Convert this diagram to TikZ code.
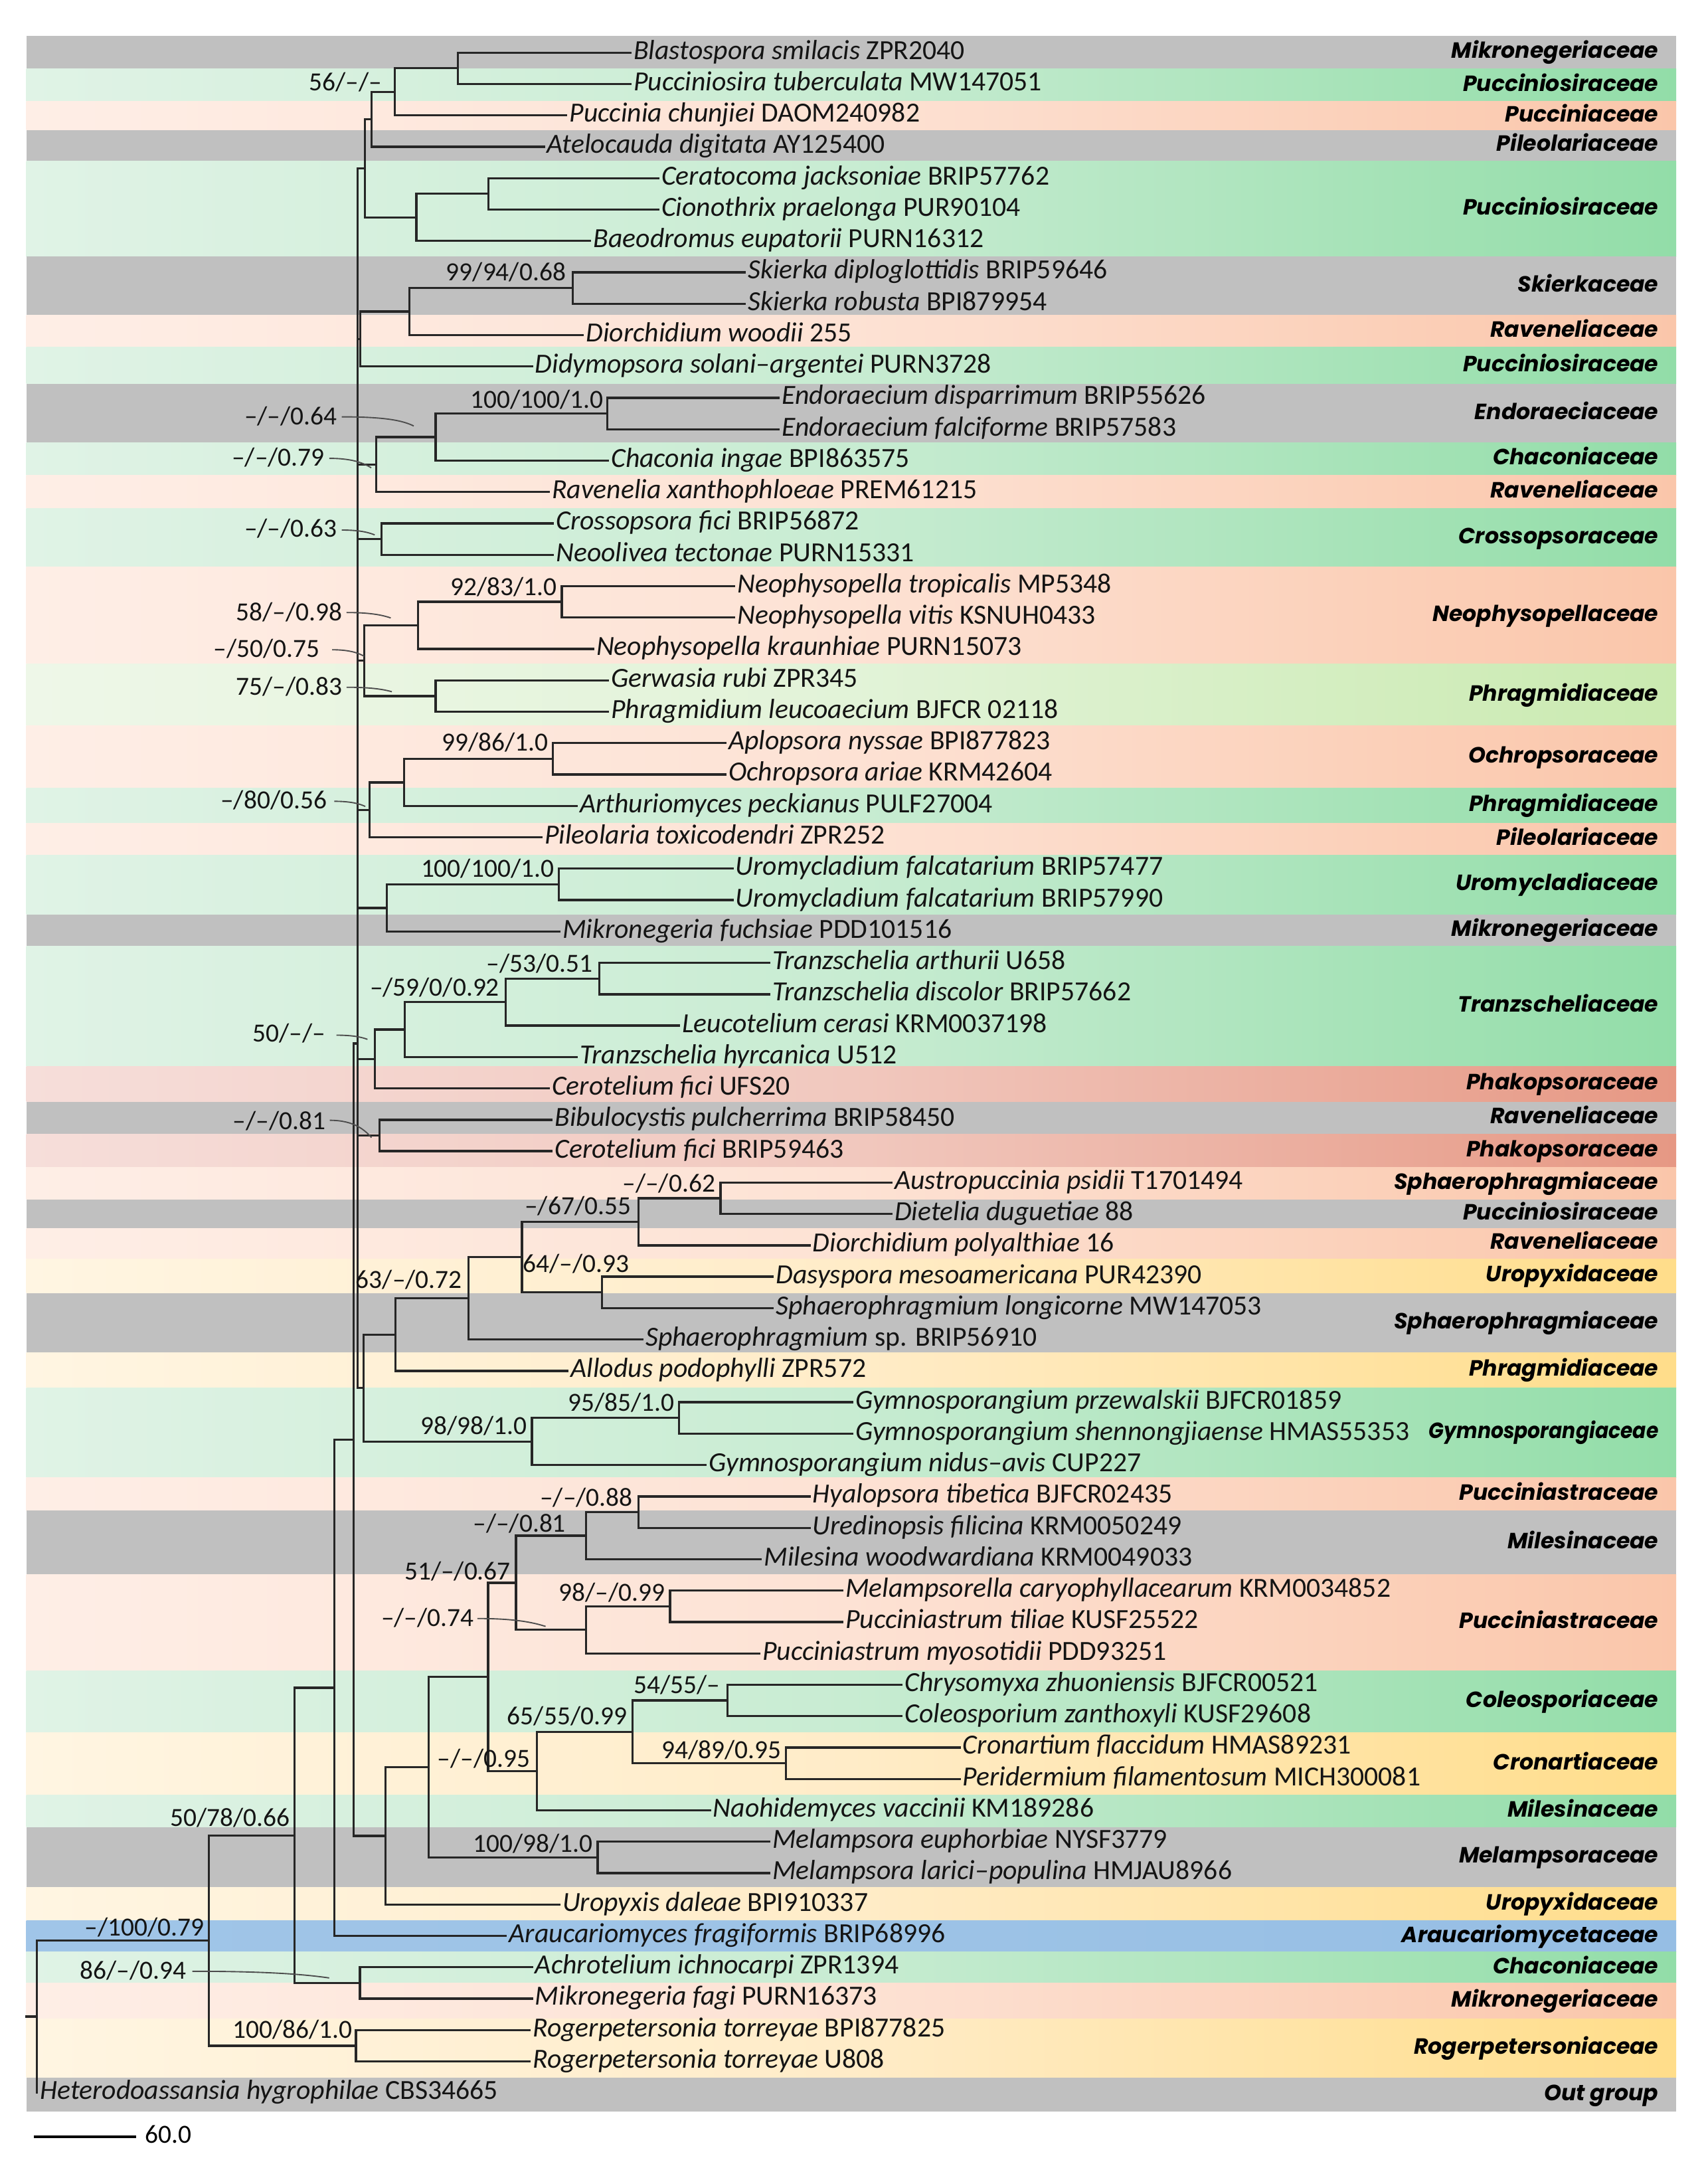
\documentclass[tikz,border=0pt]{standalone}
\usepackage{fontspec}
\setmainfont{Carlito}
\newfontfamily\famfont{Poppins}
\usetikzlibrary{calc}
\definecolor{bandgray}{RGB}{192,192,192}
\definecolor{gL}{RGB}{224,243,230}\definecolor{gM}{RGB}{200,236,210}\definecolor{gR}{RGB}{146,221,168}
\definecolor{pL}{RGB}{254,238,230}\definecolor{pM}{RGB}{253,226,212}\definecolor{pR}{RGB}{250,198,170}
\definecolor{rL}{RGB}{246,222,218}\definecolor{rM}{RGB}{241,200,190}\definecolor{rR}{RGB}{230,152,132}
\definecolor{yL}{RGB}{255,245,226}\definecolor{yM}{RGB}{255,236,200}\definecolor{yR}{RGB}{255,221,138}
\definecolor{lL}{RGB}{238,247,232}\definecolor{lM}{RGB}{226,243,216}\definecolor{lR}{RGB}{202,234,176}
\definecolor{bL}{RGB}{160,197,232}\definecolor{bM}{RGB}{157,195,230}\definecolor{bR}{RGB}{150,190,228}
\tikzset{
  branch/.style={line width=0.8pt, line cap=rect, line join=miter, draw=black!85},
  leader/.style={line width=0.45pt, draw=black!70},
  taxon/.style={anchor=mid west, inner xsep=1pt, inner ysep=0pt, font=\fontsize{10}{12}\selectfont, text=black!92},
  sup/.style={anchor=base east, inner sep=0pt, font=\fontsize{9.45}{11}\selectfont, text=black!92},
  fam/.style={anchor=mid east, inner sep=0pt, font=\famfont\bfseries\itshape\fontsize{7.95}{10}\selectfont},
  bgray/.style={fill=bandgray},
  bgreen/.style={left color=gL, right color=gR, middle color=gM},
  bpeach/.style={left color=pL, right color=pR, middle color=pM},
  bred/.style={left color=rL, right color=rR, middle color=rM},
  byellow/.style={left color=yL, right color=yR, middle color=yM},
  blgreen/.style={left color=lL, right color=lR, middle color=lM},
  bblue/.style={left color=bL, right color=bR, middle color=bM}
}
\newcommand\band[5]{\path[#3] (19,#1) rectangle (1211.4,#2);
  \node[fam] (#5) at (1199,{(#1+#2)/2-0.5}) {#4};}
\newcommand\tip[5]{\node[taxon] (#1) at (#2,#3) {\textit{#4} #5};}
\newcommand\br[2]{\draw[branch] (#1) |- (#2);}
\begin{document}
\begin{tikzpicture}[x=0.5pt,y=-0.5pt]
\useasboundingbox (0,0) rectangle (1234,1568);
% ---------- bands ----------
\band{25.7}{49.7}{bgray}{Mikronegeriaceae}{F1}
\band{49.7}{73.4}{bgreen}{Pucciniosiraceae}{F2}
\band{73.4}{94}{bpeach}{Pucciniaceae}{F3}
\band{94}{116.2}{bgray}{Pileolariaceae}{F4}
\band{116.2}{185.4}{bgreen}{Pucciniosiraceae}{F5}
\band{185.4}{227.5}{bgray}{Skierkaceae}{F6}
\band{227.5}{251}{bpeach}{Raveneliaceae}{F7}
\band{251}{277.2}{bgreen}{Pucciniosiraceae}{F8}
\band{277.2}{320}{bgray}{Endoraeciaceae}{F9}
\band{320}{343.2}{bgreen}{Chaconiaceae}{F10}
\band{343.2}{367.5}{bpeach}{Raveneliaceae}{F11}
\band{367.5}{409.7}{bgreen}{Crossopsoraceae}{F12}
\band{409.7}{479.8}{bpeach}{Neophysopellaceae}{F13}
\band{479.8}{524.4}{blgreen}{Phragmidiaceae}{F14}
\band{524.4}{569.3}{bpeach}{Ochropsoraceae}{F15}
\band{569.3}{594.7}{bgreen}{Phragmidiaceae}{F16}
\band{594.7}{617.8}{bpeach}{Pileolariaceae}{F17}
\band{617.8}{660.7}{bgreen}{Uromycladiaceae}{F18}
\band{660.7}{683.8}{bgray}{Mikronegeriaceae}{F19}
\band{683.8}{770.4}{bgreen}{Tranzscheliaceae}{F20}
\band{770.4}{796}{bred}{Phakopsoraceae}{F21}
\band{796}{819.5}{bgray}{Raveneliaceae}{F22}
\band{819.5}{843.5}{bred}{Phakopsoraceae}{F23}
\band{843.5}{866.6}{bpeach}{Sphaerophragmiaceae}{F24}
\band{866.6}{887.5}{bgray}{Pucciniosiraceae}{F25}
\band{887.5}{909.5}{bpeach}{Raveneliaceae}{F26}
\band{909.5}{934.3}{byellow}{Uropyxidaceae}{F27}
\band{934.3}{977.2}{bgray}{Sphaerophragmiaceae}{F28}
\band{977.2}{1002.9}{byellow}{Phragmidiaceae}{F29}
\band{1002.9}{1067.6}{bgreen}{\scalebox{0.9}[1]{Gymnosporangiaceae}}{F30}
\band{1067.6}{1091.5}{bpeach}{Pucciniastraceae}{F31}
\band{1091.5}{1137.8}{bgray}{Milesinaceae}{F32}
\band{1137.8}{1207.2}{bpeach}{Pucciniastraceae}{F33}
\band{1207.2}{1251.8}{bgreen}{Coleosporiaceae}{F34}
\band{1251.8}{1297.2}{byellow}{Cronartiaceae}{F35}
\band{1297.2}{1320.2}{bgreen}{Milesinaceae}{F36}
\band{1320.2}{1363.6}{bgray}{Melampsoraceae}{F37}
\band{1363.6}{1387.9}{byellow}{Uropyxidaceae}{F38}
\band{1387.9}{1410.5}{bblue}{Araucariomycetaceae}{F39}
\band{1410.5}{1433}{bgreen}{Chaconiaceae}{F40}
\band{1433}{1458.6}{bpeach}{Mikronegeriaceae}{F41}
\band{1458.6}{1501.1}{byellow}{Rogerpetersoniaceae}{F42}
\band{1501.1}{1525.9}{bgray}{Out group}{F43}
% ---------- tips ----------
\tip{T0}{455.6}{38.00}{Blastospora smilacis}{ZPR2040}
\tip{T1}{455.6}{60.68}{Pucciniosira tuberculata}{MW147051}
\tip{T2}{409.3}{83.36}{Puccinia chunjiei}{DAOM240982}
\tip{T3}{393.0}{106.04}{Atelocauda digitata}{AY125400}
\tip{T4}{475.7}{128.72}{Ceratocoma jacksoniae}{BRIP57762}
\tip{T5}{475.7}{151.40}{Cionothrix praelonga}{PUR90104}
\tip{T6}{426.5}{174.08}{Baeodromus eupatorii}{PURN16312}
\tip{T7}{538.3}{196.76}{Skierka diploglottidis}{BRIP59646}
\tip{T8}{538.3}{219.44}{Skierka robusta}{BPI879954}
\tip{T9}{421.3}{242.12}{Diorchidium woodii}{255}
\tip{T10}{384.4}{264.80}{Didymopsora solani–argentei}{PURN3728}
\tip{T11}{562.7}{287.48}{Endoraecium disparrimum}{BRIP55626}
\tip{T12}{562.7}{310.16}{Endoraecium falciforme}{BRIP57583}
\tip{T13}{439.3}{332.84}{Chaconia ingae}{BPI863575}
\tip{T14}{396.5}{355.52}{Ravenelia xanthophloeae}{PREM61215}
\tip{T15}{399.5}{378.20}{Crossopsora fici}{BRIP56872}
\tip{T16}{399.5}{400.88}{Neoolivea tectonae}{PURN15331}
\tip{T17}{530.6}{423.56}{Neophysopella tropicalis}{MP5348}
\tip{T18}{530.6}{446.24}{Neophysopella vitis}{KSNUH0433}
\tip{T19}{428.6}{468.92}{Neophysopella kraunhiae}{PURN15073}
\tip{T20}{439.3}{491.60}{Gerwasia rubi}{ZPR345}
\tip{T21}{439.3}{514.28}{Phragmidium leucoaecium}{BJFCR 02118}
\tip{T22}{524.2}{536.96}{Aplopsora nyssae}{BPI877823}
\tip{T23}{524.2}{559.64}{Ochropsora ariae}{KRM42604}
\tip{T24}{416.6}{582.32}{Arthuriomyces peckianus}{PULF27004}
\tip{T25}{391.3}{605.00}{Pileolaria toxicodendri}{ZPR252}
\tip{T26}{529.3}{627.68}{Uromycladium falcatarium}{BRIP57477}
\tip{T27}{529.3}{650.36}{Uromycladium falcatarium}{BRIP57990}
\tip{T28}{404.2}{673.04}{Mikronegeria fuchsiae}{PDD101516}
\tip{T29}{555.9}{695.72}{Tranzschelia arthurii}{U658}
\tip{T30}{555.9}{718.40}{Tranzschelia discolor}{BRIP57662}
\tip{T31}{490.7}{741.08}{Leucotelium cerasi}{KRM0037198}
\tip{T32}{416.6}{763.76}{Tranzschelia hyrcanica}{U512}
\tip{T33}{396.5}{786.44}{Cerotelium fici}{UFS20}
\tip{T34}{398.6}{809.12}{Bibulocystis pulcherrima}{BRIP58450}
\tip{T35}{398.6}{831.80}{Cerotelium fici}{BRIP59463}
\tip{T36}{644.2}{854.48}{Austropuccinia psidii}{T1701494}
\tip{T37}{644.2}{877.16}{Dietelia duguetiae}{88}
\tip{T38}{585.0}{899.84}{Diorchidium polyalthiae}{16}
\tip{T39}{558.5}{922.52}{Dasyspora mesoamericana}{PUR42390}
\tip{T40}{558.5}{945.20}{Sphaerophragmium longicorne}{MW147053}
\tip{T41}{464.2}{967.88}{Sphaerophragmium}{sp. BRIP56910}
\tip{T42}{410.2}{990.56}{Allodus podophylli}{ZPR572}
\tip{T43}{615.9}{1013.24}{Gymnosporangium przewalskii}{BJFCR01859}
\tip{T44}{615.9}{1035.92}{Gymnosporangium shennongjiaense}{HMAS55353}
\tip{T45}{510.0}{1058.60}{Gymnosporangium nidus–avis}{CUP227}
\tip{T46}{585.0}{1081.28}{Hyalopsora tibetica}{BJFCR02435}
\tip{T47}{585.0}{1103.96}{Uredinopsis filicina}{KRM0050249}
\tip{T48}{549.9}{1126.64}{Milesina woodwardiana}{KRM0049033}
\tip{T49}{608.6}{1149.32}{Melampsorella caryophyllacearum}{KRM0034852}
\tip{T50}{608.6}{1172.00}{Pucciniastrum tiliae}{KUSF25522}
\tip{T51}{548.6}{1194.68}{Pucciniastrum myosotidii}{PDD93251}
\tip{T52}{651.5}{1217.36}{Chrysomyxa zhuoniensis}{BJFCR00521}
\tip{T53}{651.5}{1240.04}{Coleosporium zanthoxyli}{KUSF29608}
\tip{T54}{693.5}{1262.72}{Cronartium flaccidum}{HMAS89231}
\tip{T55}{693.5}{1285.40}{Peridermium filamentosum}{MICH300081}
\tip{T56}{513.0}{1308.08}{Naohidemyces vaccinii}{KM189286}
\tip{T57}{555.9}{1330.76}{Melampsora euphorbiae}{NYSF3779}
\tip{T58}{555.9}{1353.44}{Melampsora larici–populina}{HMJAU8966}
\tip{T59}{404.2}{1376.12}{Uropyxis daleae}{BPI910337}
\tip{T60}{365.6}{1398.80}{Araucariomyces fragiformis}{BRIP68996}
\tip{T61}{384.4}{1421.48}{Achrotelium ichnocarpi}{ZPR1394}
\tip{T62}{384.4}{1444.16}{Mikronegeria fagi}{PURN16373}
\tip{T63}{382.7}{1466.84}{Rogerpetersonia torreyae}{BPI877825}
\tip{T64}{382.7}{1489.52}{Rogerpetersonia torreyae}{U808}
\tip{T65}{26.6}{1512.20}{Heterodoassansia hygrophilae}{CBS34665}
% ---------- internal nodes ----------
\coordinate (n1) at (331,49.34);
\coordinate (n2) at (285.3,66.35);
\coordinate (n3) at (268.5,86.20);
\coordinate (n4) at (353,140.06);
\coordinate (n5) at (301,157.07);
\coordinate (n6) at (263.8,121.64);
\coordinate (n7) at (414,208.10);
\coordinate (n8) at (296,225.11);
\coordinate (n9) at (260.5,244.96);
\coordinate (n10) at (439,298.82);
\coordinate (n11) at (314.8,315.83);
\coordinate (n12) at (272,335.68);
\coordinate (n13) at (275.7,389.54);
\coordinate (n14) at (406,434.90);
\coordinate (n15) at (302.1,451.91);
\coordinate (n16) at (314.8,502.94);
\coordinate (n17) at (263.2,477.43);
\coordinate (n18) at (399.5,548.30);
\coordinate (n19) at (292.2,565.31);
\coordinate (n20) at (267,585.16);
\coordinate (n21) at (404,639.02);
\coordinate (n22) at (279.6,656.03);
\coordinate (n23) at (433,707.06);
\coordinate (n24) at (365.6,724.07);
\coordinate (n25) at (292.5,743.92);
\coordinate (n26) at (270.8,765.18);
\coordinate (n27) at (274.3,820.46);
\coordinate (n28) at (520.7,865.82);
\coordinate (n29) at (461.6,882.83);
\coordinate (n30) at (435,933.86);
\coordinate (n31) at (377.2,908.35);
\coordinate (n32) at (338.6,938.12);
\coordinate (n33) at (285.9,964.34);
\coordinate (n34) at (490.7,1024.58);
\coordinate (n35) at (384.4,1041.59);
\coordinate (n36) at (262.8,1002.97);
\coordinate (nB) at (258.3,754);
\coordinate (nA) at (255.5,1040.26);
\coordinate (n37) at (461.6,1092.62);
\coordinate (n38) at (423.4,1109.63);
\coordinate (n39) at (484.3,1160.66);
\coordinate (n40) at (423.4,1177.67);
\coordinate (n41) at (372.9,1143.65);
\coordinate (n42) at (525.9,1228.70);
\coordinate (n43) at (567.9,1274.06);
\coordinate (n44) at (457.3,1251.38);
\coordinate (n45) at (387.9,1279.73);
\coordinate (n46) at (352.7,1211.69);
\coordinate (n47) at (432,1342.10);
\coordinate (n48) at (309.9,1276.90);
\coordinate (n49) at (278.6,1326.51);
\coordinate (n50) at (241.5,1219.53);
\coordinate (n51) at (260.2,1432.82);
\coordinate (n52) at (213,1326.18);
\coordinate (n53) at (257.2,1478.18);
\coordinate (n54) at (150.9,1402.18);
\coordinate (n55) at (26.6,1457.19);
\coordinate (rootstub) at (19,1457.19);
% ---------- branches ----------
\br{n1}{T0.mid west}\br{n1}{T1.mid west}
\br{n2}{n1}\br{n2}{T2.mid west}
\br{n3}{n2}\br{n3}{T3.mid west}
\br{n4}{T4.mid west}\br{n4}{T5.mid west}
\br{n5}{n4}\br{n5}{T6.mid west}
\br{n6}{n3}\br{n6}{n5}
\br{n7}{T7.mid west}\br{n7}{T8.mid west}
\br{n8}{n7}\br{n8}{T9.mid west}
\br{n9}{n8}\br{n9}{T10.mid west}
\br{n10}{T11.mid west}\br{n10}{T12.mid west}
\br{n11}{n10}\br{n11}{T13.mid west}
\br{n12}{n11}\br{n12}{T14.mid west}
\br{n13}{T15.mid west}\br{n13}{T16.mid west}
\br{n14}{T17.mid west}\br{n14}{T18.mid west}
\br{n15}{n14}\br{n15}{T19.mid west}
\br{n16}{T20.mid west}\br{n16}{T21.mid west}
\br{n17}{n15}\br{n17}{n16}
\br{n18}{T22.mid west}\br{n18}{T23.mid west}
\br{n19}{n18}\br{n19}{T24.mid west}
\br{n20}{n19}\br{n20}{T25.mid west}
\br{n21}{T26.mid west}\br{n21}{T27.mid west}
\br{n22}{n21}\br{n22}{T28.mid west}
\br{n23}{T29.mid west}\br{n23}{T30.mid west}
\br{n24}{n23}\br{n24}{T31.mid west}
\br{n25}{n24}\br{n25}{T32.mid west}
\br{n26}{n25}\br{n26}{T33.mid west}
\br{n27}{T34.mid west}\br{n27}{T35.mid west}
\br{n28}{T36.mid west}\br{n28}{T37.mid west}
\br{n29}{n28}\br{n29}{T38.mid west}
\br{n30}{T39.mid west}\br{n30}{T40.mid west}
\br{n31}{n29}\br{n31}{n30}
\br{n32}{n31}\br{n32}{T41.mid west}
\br{n33}{n32}\br{n33}{T42.mid west}
\br{n34}{T43.mid west}\br{n34}{T44.mid west}
\br{n35}{n34}\br{n35}{T45.mid west}
\br{n36}{n33}\br{n36}{n35}
\br{nB}{n6}\br{nB}{n9}\br{nB}{n12}\br{nB}{n13}\br{nB}{n17}
\br{nB}{n20}\br{nB}{n22}\br{nB}{n26}\br{nB}{n27}\br{nB}{n36}
\br{nA}{nB}\br{nA}{n49}
\br{n37}{T46.mid west}\br{n37}{T47.mid west}
\br{n38}{n37}\br{n38}{T48.mid west}
\br{n39}{T49.mid west}\br{n39}{T50.mid west}
\br{n40}{n39}\br{n40}{T51.mid west}
\br{n41}{n38}\br{n41}{n40}
\br{n42}{T52.mid west}\br{n42}{T53.mid west}
\br{n43}{T54.mid west}\br{n43}{T55.mid west}
\br{n44}{n42}\br{n44}{n43}
\br{n45}{n44}\br{n45}{T56.mid west}
\br{n46}{n41}\br{n46}{n45}
\br{n47}{T57.mid west}\br{n47}{T58.mid west}
\br{n48}{n46}\br{n48}{n47}
\br{n49}{n48}\br{n49}{T59.mid west}
\br{n50}{nA}\br{n50}{T60.mid west}
\br{n51}{T61.mid west}\br{n51}{T62.mid west}
\br{n52}{n50}\br{n52}{n51}
\br{n53}{T63.mid west}\br{n53}{T64.mid west}
\br{n54}{n52}\br{n54}{n53}
\br{n55}{n54}\br{n55}{T65.mid west}
\draw[branch] (rootstub) -- (n55);
% ---------- support values ----------
\node[sup] (S1) at (276.4,65.7) {56/–/–};
\node[sup] (S2) at (409.3,202.7) {99/94/0.68};
\node[sup] (S3) at (436.3,294.9) {100/100/1.0};
\node[sup] (S4) at (244,306.9) {–/–/0.64};
\node[sup] (S5) at (235,336.9) {–/–/0.79};
\node[sup] (S6) at (244,387.8) {–/–/0.63};
\node[sup] (S7) at (402.9,430.3) {92/83/1.0};
\node[sup] (S8) at (247.7,448.3) {58/–/0.98};
\node[sup] (S9) at (231.4,474.9) {–/50/0.75};
\node[sup] (S10) at (247.7,502.3) {75/–/0.83};
\node[sup] (S11) at (396.5,542.6) {99/86/1.0};
\node[sup] (S12) at (236.6,584.1) {–/80/0.56};
\node[sup] (S13) at (400.7,633.8) {100/100/1.0};
\node[sup] (S14) at (428.6,702.4) {–/53/0.51};
\node[sup] (S15) at (361.3,719.5) {–/59/0/0.92};
\node[sup] (S16) at (235.7,752.9) {50/–/–};
\node[sup] (S17) at (235.7,816.1) {–/–/0.81};
\node[sup] (S18) at (517.3,861.2) {–/–/0.62};
\node[sup] (S19) at (456.4,877.5) {–/67/0.55};
\node[sup] (S20) at (455,919.5) {64/–/0.93};
\node[sup] (S21) at (334.3,930.9) {63/–/0.72};
\node[sup] (S22) at (487.7,1019.7) {95/85/1.0};
\node[sup] (S23) at (381.4,1036.5) {98/98/1.0};
\node[sup] (S24) at (457.7,1088.3) {–/–/0.88};
\node[sup] (S25) at (409.3,1107.2) {–/–/0.81};
\node[sup] (S26) at (369.4,1141.5) {51/–/0.67};
\node[sup] (S27) at (480.9,1156.9) {98/–/0.99};
\node[sup] (S28) at (342.9,1175.2) {–/–/0.74};
\node[sup] (S29) at (520.7,1223.8) {54/55/–};
\node[sup] (S30) at (453.5,1246) {65/55/0.99};
\node[sup] (S31) at (564.9,1270.7) {94/89/0.95};
\node[sup] (S32) at (383.6,1276.9) {–/–/0.95};
\node[sup] (S33) at (428.6,1338.1) {100/98/1.0};
\node[sup] (S34) at (210,1319.8) {50/78/0.66};
\node[sup] (S35) at (147.9,1398.8) {–/100/0.79};
\node[sup] (S36) at (135,1430.1) {86/–/0.94};
\node[sup] (S37) at (255,1472.6) {100/86/1.0};
% ---------- leader lines ----------
\coordinate (L4s) at (247,301.2);   \coordinate (L4e) at (299,307.8);
\coordinate (L5s) at (238,331.2);   \coordinate (L5e) at (268.3,338);
\coordinate (L6s) at (247,383);     \coordinate (L6e) at (270.8,386.5);
\coordinate (L8s) at (250.5,442.6); \coordinate (L8e) at (282.4,446.5);
\coordinate (L9s) at (240,469.5);   \coordinate (L9e) at (263.2,474.2);
\coordinate (L10s) at (250.5,496.6);\coordinate (L10e) at (283.2,499.8);
\coordinate (L12s) at (241.6,579);  \coordinate (L12e) at (264,582.7);
\coordinate (L16s) at (243.2,748);  \coordinate (L16e) at (265.6,751);
\coordinate (L17s) at (238.4,809.5);\coordinate (L17e) at (268.5,822);
\coordinate (L28s) at (345,1169.5); \coordinate (L28e) at (394.3,1175.2);
\coordinate (L36s) at (139,1424.4); \coordinate (L36e) at (237.9,1429.2);
\draw[leader] (L4s) .. controls (278,301.2) and (291,303.8) .. (L4e);
\draw[leader] (L5s) .. controls (256.2,331.2) and (263.8,335.3) .. (L5e);
\draw[leader] (L6s) .. controls (261.3,383) and (267.2,385.1) .. (L6e);
\draw[leader] (L8s) .. controls (269.6,442.6) and (277.6,444.9) .. (L8e);
\draw[leader] (L9s) .. controls (253.9,469.5) and (259.7,472.3) .. (L9e);
\draw[leader] (L10s) .. controls (270.1,496.6) and (278.3,498.5) .. (L10e);
\draw[leader] (L12s) .. controls (255,579) and (260.6,581.2) .. (L12e);
\draw[leader] (L16s) .. controls (256.6,748) and (262.2,749.8) .. (L16e);
\draw[leader] (L17s) .. controls (256.5,809.5) and (264,817) .. (L17e);
\draw[leader] (L28s) .. controls (374.6,1169.5) and (386.9,1172.9) .. (L28e);
\draw[leader] (L36s) .. controls (198.3,1424.4) and (223.1,1427.1) .. (L36e);
% ---------- scale bar ----------
\coordinate (sbL) at (24.4,1544);
\coordinate (sbR) at (98.6,1544);
\draw[line width=1.1pt] (sbL) -- (sbR);
\node[anchor=mid west, inner xsep=3pt, inner ysep=0pt, font=\fontsize{9.45}{11}\selectfont] (SB) at (sbR) {60.0};
\end{tikzpicture}
\end{document}
